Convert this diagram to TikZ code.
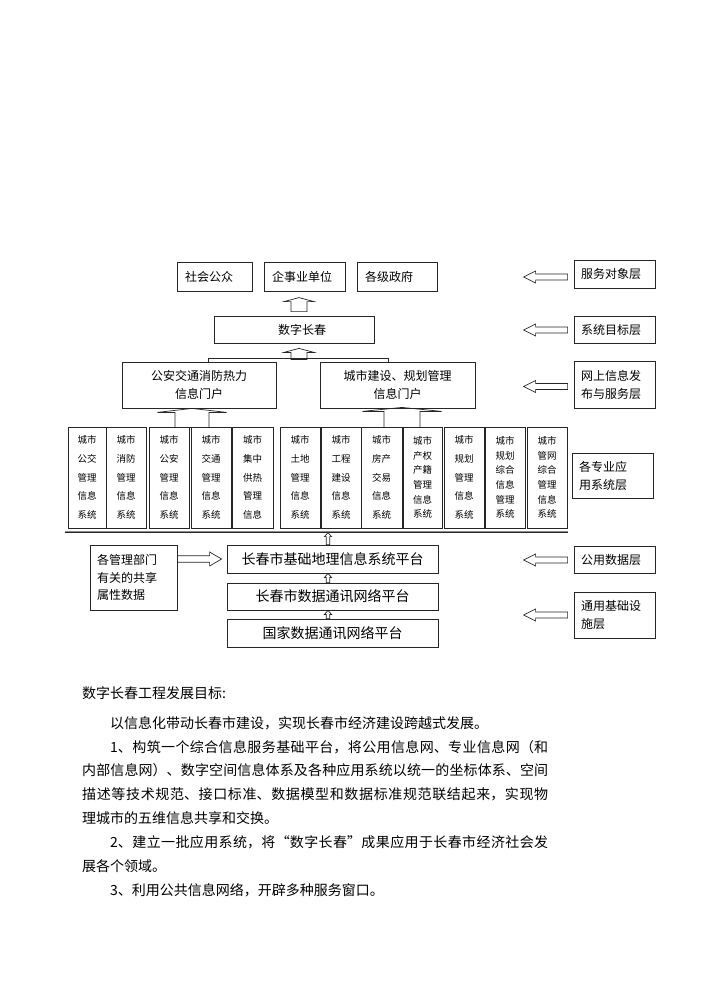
\documentclass[tikz,border=0pt]{standalone}
\usepackage{fontspec}
\setmainfont{Noto Sans CJK SC}
\XeTeXlinebreaklocale "zh"
\XeTeXlinebreakskip=0pt plus 1.5pt
\usetikzlibrary{calc}
\newcommand\BArUp[6]{%
\draw[#6] let \p1=#1, \p2=#2 in
 (\x2-#3,\y1) -- (\x2-#3,\y2-#5) -- (\x2-#4,\y2-#5) -- (\x2,\y2) -- (\x2+#4,\y2-#5) -- (\x2+#3,\y2-#5) -- (\x2+#3,\y1) -- cycle;}
\newcommand\BArLeft[6]{%
\draw[#6] let \p1=#1, \p2=#2 in
 (\x1,\y2-#3) -- (\x2+#5,\y2-#3) -- (\x2+#5,\y2-#4) -- (\x2,\y2) -- (\x2+#5,\y2+#4) -- (\x2+#5,\y2+#3) -- (\x1,\y2+#3) -- cycle;}
\newcommand\BArRight[6]{%
\draw[#6] let \p1=#1, \p2=#2 in
 (\x1,\y2-#3) -- (\x2-#5,\y2-#3) -- (\x2-#5,\y2-#4) -- (\x2,\y2) -- (\x2-#5,\y2+#4) -- (\x2-#5,\y2+#3) -- (\x1,\y2+#3) -- cycle;}
\tikzset{
  ln/.style={draw=black!85, line width=0.8pt},
  bx/.style={ln, inner ysep=0pt, inner xsep=0pt},
  tb/.style={bx, font=\fontsize{12}{18}\selectfont, align=left, minimum height=29},
  lab/.style={bx, font=\fontsize{12}{18}\selectfont, align=left, inner xsep=7pt, text width=67, minimum width=81},
  colb/.style={bx, align=center, font=\fontsize{9.5}{18.7}\selectfont, minimum height=101},
  colc/.style={colb, font=\fontsize{9.5}{14.6}\selectfont},
  plat/.style={bx, font=\fontsize{14}{18}\selectfont, align=center, minimum width=211},
  arr/.style={ln, line width=0.7pt}
}
\begin{document}
\begin{tikzpicture}[x=1pt,y=-1pt]
\fill[white] (0,0) rectangle (703,994);
\useasboundingbox (0,0) rectangle (703,994);

% top row
\node[tb, text width=59, inner xsep=8pt] (shgz) at (214.5,276.5) {社会公众};
\node[tb, text width=65, inner xsep=8pt] (qsy) at (304.5,276.5) {企事业单位};
\node[tb, text width=64, inner xsep=8pt] (gjzf) at (397,276.5) {各级政府};

\node[bx, font=\fontsize{12}{18}\selectfont, minimum width=160, minimum height=27] (szcc) at (294,329.5) {\hspace*{16pt}数字长春};

\BArUp{($(szcc.north)+(5,-4)$)}{($(szcc.north)+(5,-18)$)}{8pt}{15pt}{4pt}{arr}
\BArUp{($(szcc.south)+(5,16)$)}{($(szcc.south)+(5,5)$)}{8pt}{15pt}{4pt}{arr}

% portals
\node[bx, font=\fontsize{12}{18}\selectfont, align=center, minimum width=154, minimum height=46] (pA) at (199,385) {公安交通消防热力\\信息门户};
\node[bx, font=\fontsize{12}{18}\selectfont, align=center, minimum width=155, minimum height=46] (pB) at (397.5,385) {城市建设、规划管理\\信息门户};
\coordinate (barL) at ($(pA.north)+(9,-3)$);
\coordinate (barR) at ($(pB.north)+(-9.5,-3)$);
\draw[ln] (barL |- pA.north) -- (barL) -- (barR) -- (barR |- pB.north);

\BArUp{($(pA.south)+(-7,19)$)}{($(pA.south)+(-7,0)$)}{17pt}{34.5pt}{4pt}{arr}
\BArUp{($(pB.south)+(4.5,19)$)}{($(pB.south)+(4.5,-1)$)}{18pt}{39.5pt}{4pt}{arr}

% columns
\node[colb, minimum width=38] (c1) at (87,477.5) {城市\\公交\\管理\\信息\\系统};
\node[colb, minimum width=40] (c2) at (126,477.5) {城市\\消防\\管理\\信息\\系统};
\node[colb, minimum width=40] (c3) at (169,477.5) {城市\\公安\\管理\\信息\\系统};
\node[colb, minimum width=40] (c4) at (211,477.5) {城市\\交通\\管理\\信息\\系统};
\node[colb, minimum width=41] (c5) at (252.5,477.5) {城市\\集中\\供热\\管理\\信息};
\node[colb, minimum width=40] (c6) at (300,477.5) {城市\\土地\\管理\\信息\\系统};
\node[colb, minimum width=40] (c7) at (341,477.5) {城市\\工程\\建设\\信息\\系统};
\node[colb, minimum width=41] (c8) at (381.5,477.5) {城市\\房产\\交易\\信息\\系统};
\node[colc, minimum width=39] (c9) at (422.5,477.5) {城市\\产权\\产籍\\管理\\信息\\系统};
\node[colb, minimum width=40] (c10) at (464,477.5) {城市\\规划\\管理\\信息\\系统};
\node[colc, minimum width=40] (c11) at (505,477.5) {城市\\规划\\综合\\信息\\管理\\系统};
\node[colc, minimum width=40] (c12) at (547,477.5) {城市\\管网\\综合\\管理\\信息\\系统};

\coordinate (lnL) at ($(c1.south west)+(-3,2.5)$);
\coordinate (lnR) at ($(c12.south east)+(1,2.5)$);
\draw[black!45, line width=0.8pt] (lnL) -- (lnR);
\draw[black!85, line width=0.8pt] ($(lnL)+(0,1.6)$) -- ($(lnR)+(0,1.6)$);

% right labels
\node[lab, minimum height=28] (L1) at (614.5,274) {服务对象层};
\node[lab, minimum height=27] (L2) at (614.5,329.5) {系统目标层};
\node[lab, minimum height=47] (L3) at (614.5,384.5) {网上信息发\\布与服务层};
\node[lab, minimum height=45, text width=67, inner xsep=6pt, minimum width=81] (L4) at (612.5,475.5) {各专业应\\用系统层};
\node[lab, minimum height=27] (L5) at (614.5,559.5) {公用数据层};
\node[lab, minimum height=46] (L6) at (614.5,615) {通用基础设\\施层};

\BArLeft{($(L1.west)+(-6,3)$)}{($(L1.west)+(-50,3)$)}{3pt}{6pt}{12pt}{arr}
\BArLeft{($(L2.west)+(-6,0.5)$)}{($(L2.west)+(-50,0.5)$)}{3pt}{6pt}{12pt}{arr}
\BArLeft{($(L3.west)+(-6,2)$)}{($(L3.west)+(-50,2)$)}{3pt}{6pt}{12pt}{arr}
\BArLeft{($(L5.west)+(-6,0.5)$)}{($(L5.west)+(-50,0.5)$)}{3pt}{6pt}{12pt}{arr}
\BArLeft{($(L6.west)+(-6,0)$)}{($(L6.west)+(-50,0)$)}{3pt}{6pt}{12pt}{arr}

% platforms
\node[plat, minimum height=28] (jc) at (332.5,559) {长春市基础地理信息系统平台};
\node[plat, minimum height=27] (sj) at (332.5,596.5) {长春市数据通讯网络平台};
\node[plat, minimum height=28] (gj) at (332.5,633) {国家数据通讯网络平台};
\node[bx, font=\fontsize{12}{17.3}\selectfont, align=left, text width=73, inner xsep=7pt, minimum width=87, minimum height=65] (mg) at (133.5,577.5) {各管理部门\\有关的共享\\属性数据};

\BArRight{(mg.east |- jc.west)}{($(jc.west)+(-5,0)$)}{3.3pt}{7pt}{12pt}{arr}
\BArUp{($(jc.north)+(-4.5,0)$)}{($(jc.north)+(-4.5,-12)$)}{1.7pt}{3.5pt}{4pt}{arr}
\BArUp{($(sj.north)+(-4.5,0)$)}{($(jc.south)+(-4.5,0)$)}{1.7pt}{3.5pt}{4pt}{arr}
\BArUp{($(gj.north)+(-4.5,0)$)}{($(sj.south)+(-4.5,0)$)}{1.7pt}{3.5pt}{4pt}{arr}

% text
\node[anchor=west, inner sep=0pt, font=\fontsize{14}{24}\selectfont] (hd) at (82,693) {数字长春工程发展目标:};
\node[anchor=north west, inner sep=0pt, text width=466, align=justify, font=\fontsize{14}{23.9}\selectfont] (body) at (82,716) {%
\noindent\hspace*{28pt}以信息化带动长春市建设，实现长春市经济建设跨越式发展。\par
\noindent\hspace*{28pt}1、构筑一个综合信息服务基础平台，将公用信息网、专业信息网（和\linebreak
内部信息网）、数字空间信息体系及各种应用系统以统一的坐标体系、空间\linebreak
描述等技术规范、接口标准、数据模型和数据标准规范联结起来，实现物\linebreak
理城市的五维信息共享和交换。\par
\noindent\hspace*{28pt}2、建立一批应用系统，将“数字长春”成果应用于长春市经济社会发\linebreak
展各个领域。\par
\noindent\hspace*{28pt}3、利用公共信息网络，开辟多种服务窗口。\par};
\end{tikzpicture}
\end{document}
